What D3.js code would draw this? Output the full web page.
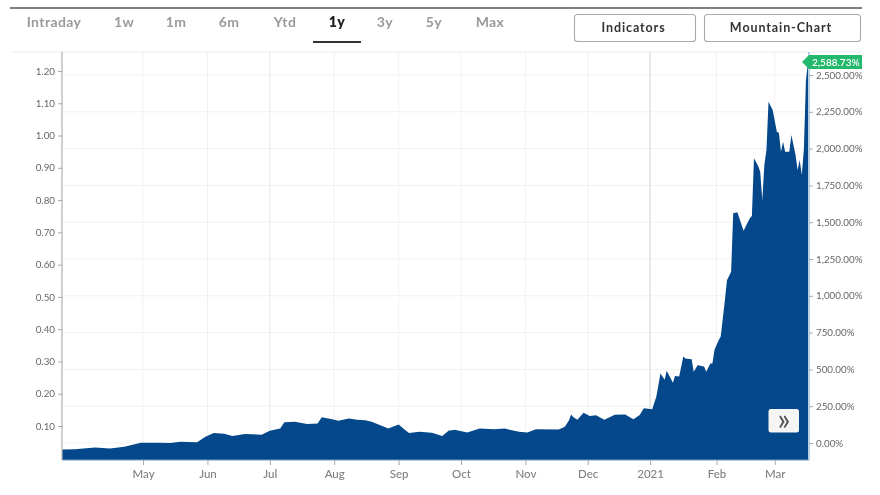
<!DOCTYPE html>
<html><head><meta charset="utf-8">
<script src="https://cdn.jsdelivr.net/npm/d3@7"></script>
<style>html,body{margin:0;padding:0;background:#fff}svg{display:block;filter:blur(.35px)}text{font-family:Lato,"Open Sans",sans-serif}</style>
</head><body><svg id="c" width="880" height="495"></svg>
<script>
const tabs=["Intraday","1w","1m","6m","Ytd","1y","3y","5y","Max"];
const activeTab="1y";
const buttons=["Indicators","Mountain-Chart"];
const startDate=new Date(2020,2,23);
const days=[0,6,16,23,30,38,47,52,57,65,69,73,78,82,88,96,100,105,107,112,118,123,125,130,133,138,142,146,149,155,157,162,165,167,172,178,183,186,189,195,201,208,213,220,224,228,239,242,244,245,246,248,251,254,257,261,266,271,275,278,280,283,284,286,288,290,291,294,295,297,299,300,303,304,306,307,309,310,312,313,314,316,317,319,320,322,323,325,328,331,332,333,335,336,337,338,339,340,342,344,345,346,347,348,350,351,353,354,355,356,357,358,359];
const price=[.027,.028,.033,.030,.036,.048,.048,.047,.051,.050,.067,.078,.076,.069,.075,.073,.085,.092,.112,.113,.106,.108,.127,.121,.116,.123,.119,.118,.113,.098,.092,.105,.088,.078,.082,.079,.069,.085,.088,.080,.092,.090,.092,.082,.080,.090,.089,.098,.118,.136,.128,.119,.141,.131,.133,.119,.135,.136,.121,.134,.155,.153,.152,.191,.263,.243,.271,.234,.255,.253,.315,.309,.307,.268,.289,.287,.284,.268,.294,.294,.336,.366,.377,.490,.552,.578,.759,.762,.705,.744,.751,.930,.906,.888,.800,.909,.955,1.105,1.079,1.012,1.008,.950,.981,.950,.950,1.002,.940,.893,.924,.878,.955,1.170,1.228];
const priceTicks=[.1,.2,.3,.4,.5,.6,.7,.8,.9,1.0,1.1,1.2];
const pctTicks=[0,250,500,750,1000,1250,1500,1750,2000,2250,2500];
const lastPct="2,588.73%";
const monthTicks=[[2020,4,1,"May"],[2020,5,1,"Jun"],[2020,6,1,"Jul"],[2020,7,1,"Aug"],[2020,8,1,"Sep"],[2020,9,1,"Oct"],[2020,10,1,"Nov"],[2020,11,1,"Dec"],[2020,11,31,"2021"],[2021,1,1,"Feb"],[2021,2,1,"Mar"]];

const svg=d3.select("#c");
const L=62,R=808,T=52,B=460;
const x=d3.scaleTime().domain([startDate,new Date(2021,2,17)]).range([L,R]).clamp(true);
const y=d3.scaleLinear().domain([.1,1.2]).range([426,71]);
const yPct=d3.scaleLinear().domain([0,2500]).range([443,75]);
const months=monthTicks.map(d=>({date:new Date(d[0],d[1],d[2]),label:d[3]}));
const series=days.map((d,i)=>({date:d3.timeDay.offset(startDate,d),v:price[i]}));

// header
svg.append("line").attr("x1",10).attr("x2",862).attr("y1",8).attr("y2",8).attr("stroke","#555").attr("stroke-width",1.4);
svg.append("line").attr("x1",10).attr("x2",862).attr("y1",52).attr("y2",52).attr("stroke","#eee").attr("stroke-width",1.2);
const tabX=d3.scaleOrdinal().domain(tabs).range([54,124,176,229,285,337,385,434,490]);
svg.selectAll(".tab").data(tabs).join("text").attr("class","tab")
  .attr("x",d=>tabX(d)).attr("y",27).attr("text-anchor","middle").attr("font-size",14).attr("font-weight",d=>d===activeTab?800:700)
  .attr("letter-spacing",.4).attr("fill",d=>d===activeTab?"#222":"#9a9a9a").text(d=>d);
svg.append("rect").attr("x",313).attr("y",41).attr("width",48).attr("height",2).attr("fill","#333");
const bx=[[574,121],[704,156]];
const bg=svg.selectAll(".btn").data(buttons).join("g").attr("class","btn").attr("transform",(d,i)=>`translate(${bx[i][0]},14)`);
bg.append("rect").attr("x",.5).attr("y",.5).attr("width",(d,i)=>bx[i][1]).attr("height",27).attr("rx",3).attr("fill","#fff").attr("stroke","#aaa").attr("stroke-width",1.1);
bg.append("text").attr("x",(d,i)=>bx[i][1]/2-1).attr("y",17.5).attr("text-anchor","middle").attr("font-size",12.5).attr("font-weight",700).attr("letter-spacing",.9).attr("fill","#333").text(d=>d);

// grid
svg.append("g").selectAll("line").data(pctTicks).join("line").attr("x1",L).attr("x2",R).attr("y1",d=>yPct(d)).attr("y2",d=>yPct(d)).attr("stroke","#f1f1f1");
svg.append("g").selectAll("line").data(months).join("line").attr("x1",d=>x(d.date)).attr("x2",d=>x(d.date)).attr("y1",T).attr("y2",B)
  .attr("stroke",d=>d.label==="2021"?"#e6e6e6":d.label==="Jul"?"#ececec":"#f2f2f2").attr("stroke-width",d=>d.label==="2021"?1.8:d.label==="Jul"?1.3:1);

// area
const area=d3.area().x(d=>x(d.date)).y0(B).y1(d=>y(d.v));
svg.append("path").datum(series).attr("d",area).attr("fill","#04488b");

// axes
const gL=svg.append("g").attr("transform",`translate(${L},0)`).call(d3.axisLeft(y).tickValues(priceTicks).tickSize(4).tickPadding(3).tickFormat(d3.format(".2f")));
const gR=svg.append("g").attr("transform",`translate(809,0)`).call(d3.axisRight(yPct).tickValues(pctTicks).tickSize(4).tickPadding(3).tickFormat(d=>d3.format(",.2f")(d)+"%"));
const gB=svg.append("g").attr("transform",`translate(0,${B})`).call(d3.axisBottom(x).tickValues(months.map(d=>d.date)).tickSize(5).tickPadding(5).tickFormat((d,i)=>months[i].label));
gL.select(".domain").attr("d",`M0,${T}V${B}`).attr("stroke","#b5b5b5").attr("stroke-width",1.3);
gR.select(".domain").attr("d",`M0,${T}V${B}`).attr("stroke","#8fb6d8").attr("stroke-width",1.3);
gB.select(".domain").attr("d",`M${L},0H809`).attr("stroke","#6f9fc9").attr("stroke-width",1);
[gL,gR,gB].forEach(g=>{g.selectAll(".tick line").attr("stroke","#aaa");});
gL.selectAll("text").attr("font-size",9.8).attr("fill","#666").attr("font-family",'Lato,sans-serif');
gR.selectAll("text").attr("font-size",9.8).attr("fill","#666").attr("font-family",'Lato,sans-serif');
gB.selectAll("text").attr("font-size",11.5).attr("fill","#808080").attr("font-weight",500).attr("font-family",'Lato,sans-serif');

// last value tag
svg.append("path").attr("d","M802,62L809,55H862V69H809Z").attr("fill","#22b96c");
svg.append("text").attr("x",812).attr("y",65.5).attr("font-size",10).attr("fill","#fff").attr("font-weight",600).text(lastPct);

// pan button
svg.append("rect").attr("x",768.5).attr("y",409).attr("width",30.5).attr("height",23.5).attr("rx",2.5).attr("fill","#f5f5f3");
svg.append("text").attr("x",784).attr("y",430).attr("text-anchor","middle").attr("font-size",30).attr("fill","#555").text("»");
</script></body></html>
